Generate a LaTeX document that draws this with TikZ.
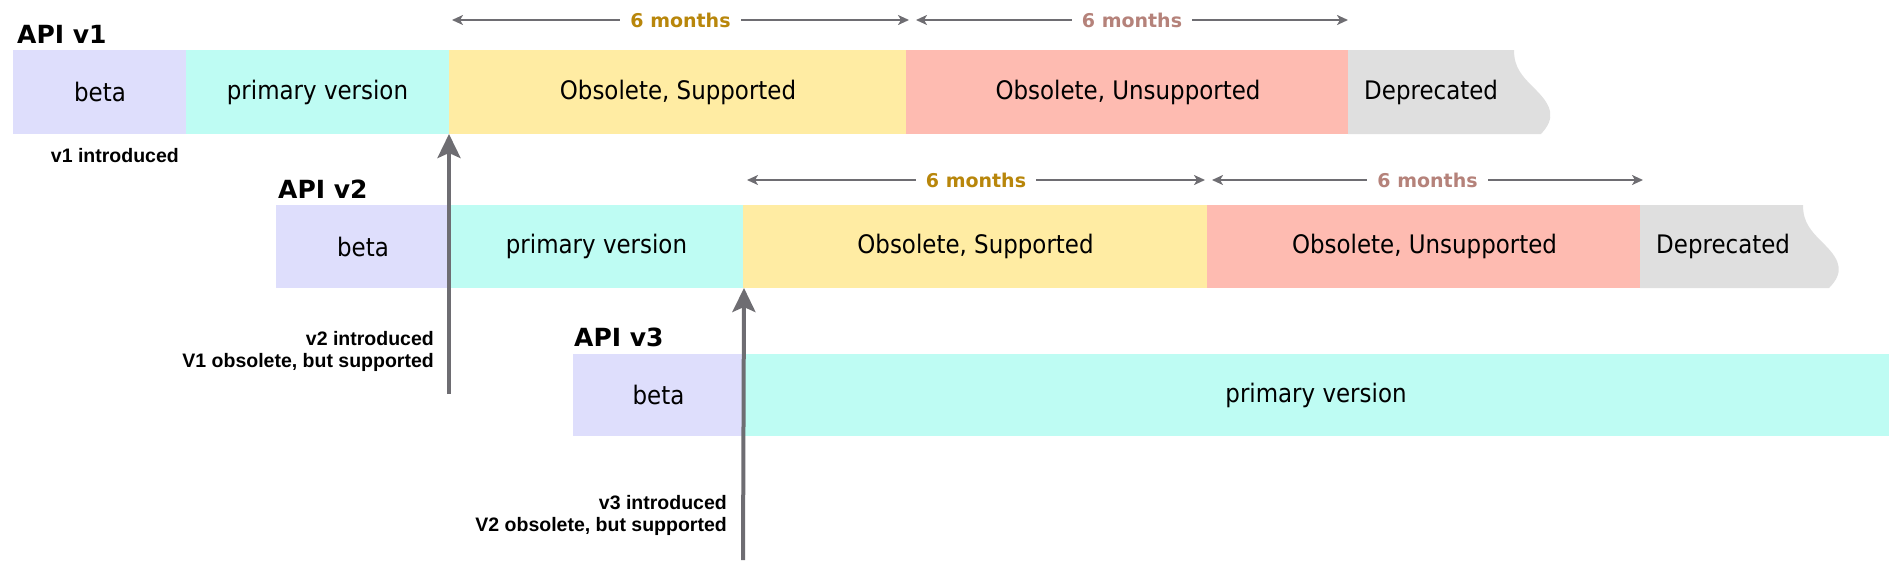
\documentclass[tikz,border=0pt]{standalone}
\usepackage{fontspec}
\setmainfont{DejaVu Sans}
\newfontfamily\barfont[FakeStretch=0.9]{DejaVu Sans}
\newfontfamily\labfont{Liberation Sans}
\usetikzlibrary{arrows.meta}
\definecolor{cbeta}{HTML}{DEDEFC}
\definecolor{cprim}{HTML}{BEFCF3}
\definecolor{csup}{HTML}{FFECA3}
\definecolor{cuns}{HTML}{FEBBB1}
\definecolor{cdep}{HTML}{DFDFDF}
\definecolor{cgray}{HTML}{6E6D72}
\definecolor{cgold}{HTML}{B8860B}
\definecolor{crose}{HTML}{B5827A}
\tikzset{
  seg/.style={draw=none, inner sep=0pt, outer sep=0pt, anchor=north west,
    font=\barfont\fontsize{25.5}{30}\selectfont},
  deptext/.style={inner sep=0pt, anchor=west, font=\barfont\fontsize{25.5}{30}\selectfont},
  apilab/.style={inner sep=0pt, anchor=base west, font=\bfseries\fontsize{25}{30}\selectfont},
  evlab/.style={inner sep=0pt, align=right, font=\labfont\bfseries\fontsize{19.5}{22}\selectfont},
  dim/.style={draw=cgray, line width=2pt,
    {Stealth[length=11pt,width=10pt,inset=3pt]}-{Stealth[length=11pt,width=10pt,inset=3pt]}},
  mlab/.style={fill=white, inner xsep=10pt, inner ysep=2pt,
    font=\bfseries\fontsize{19}{22}\selectfont},
  bigarrow/.style={draw=cgray, line width=4pt, -{Stealth[length=24pt,width=23pt,inset=5pt]}}
}
\begin{document}
\begin{tikzpicture}[x=1pt,y=-1pt]
\useasboundingbox (0,0) rectangle (1889,560);

% ---------- API v1 ----------
\node[apilab] (api1) at (17,43) {API v1};
\node[seg, fill=cbeta, minimum width=174pt, minimum height=84pt] (b1beta) at (13,50) {beta};
\node[seg, fill=cprim, minimum width=263pt, minimum height=84pt] (b1prim) at (186,50) {primary version};
\node[seg, fill=csup, minimum width=458pt, minimum height=84pt] (b1sup) at (449,50) {Obsolete, Supported};
\node[seg, fill=cuns, minimum width=444pt, minimum height=84pt] (b1uns) at (906,50) {Obsolete, Unsupported};
\begin{scope}[shift={(1349,50)}]
  \fill[cdep] (-1,0) -- (165,0) .. controls (165,18) and (173,26) .. (187,40)
    .. controls (203,56) and (207,68) .. (192,84) -- (-1,84) -- cycle;
  \node[deptext] (b1dep) at (15,42) {Deprecated};
\end{scope}
\node[evlab, anchor=base east] (ev1) at (179,162) {v1 introduced};

\coordinate (d1a) at (452,20);
\coordinate (d1b) at (909,20);
\coordinate (d1c) at (916,20);
\coordinate (d1d) at (1348,20);
\draw[dim] (d1a) -- node[mlab, text=cgold] (m1a) {6 months} (d1b);
\draw[dim] (d1c) -- node[mlab, text=crose] (m1b) {6 months} (d1d);

% ---------- API v2 ----------
\node[apilab] (api2) at (278,198) {API v2};
\node[seg, fill=cbeta, minimum width=174pt, minimum height=83pt] (b2beta) at (276,205) {beta};
\node[seg, fill=cprim, minimum width=295pt, minimum height=83pt] (b2prim) at (449,205) {primary version};
\node[seg, fill=csup, minimum width=465pt, minimum height=83pt] (b2sup) at (743,205) {Obsolete, Supported};
\node[seg, fill=cuns, minimum width=435pt, minimum height=83pt] (b2uns) at (1207,205) {Obsolete, Unsupported};
\begin{scope}[shift={(1641,205)}]
  \fill[cdep] (-1,0) -- (162,0) .. controls (162,18) and (170,26) .. (184,40)
    .. controls (200,56) and (203,68) .. (188,83) -- (-1,83) -- cycle;
  \node[deptext] (b2dep) at (15,41.5) {Deprecated};
\end{scope}
\node[evlab, anchor=north east] (ev2) at (434,331) {v2 introduced\\V1 obsolete, but supported};

\coordinate (d2a) at (747,180);
\coordinate (d2b) at (1205,180);
\coordinate (d2c) at (1212,180);
\coordinate (d2d) at (1643,180);
\draw[dim] (d2a) -- node[mlab, text=cgold] (m2a) {6 months} (d2b);
\draw[dim] (d2c) -- node[mlab, text=crose] (m2b) {6 months} (d2d);

% ---------- API v3 ----------
\node[apilab] (api3) at (574,346) {API v3};
\node[seg, fill=cbeta, minimum width=171pt, minimum height=82pt] (b3beta) at (573,354) {beta};
\node[seg, fill=cprim, minimum width=1146pt, minimum height=82pt] (b3prim) at (743,354) {primary version};
\node[evlab, anchor=north east] (ev3) at (727,495) {v3 introduced\\V2 obsolete, but supported};

% ---------- event arrows ----------
\coordinate (a1s) at (449,394);
\coordinate (a2s) at (743,560);
\draw[bigarrow] (a1s) -- (b1prim.south east);
\draw[bigarrow] (a2s) -- (b2prim.south east);
\end{tikzpicture}
\end{document}
